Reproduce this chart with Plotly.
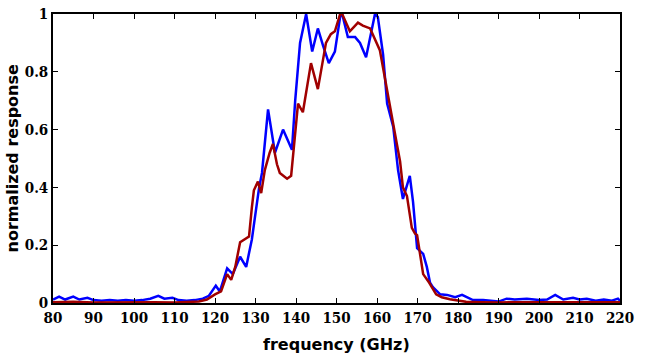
import plotly.graph_objects as go

# Blue series (frequency GHz, normalized response)
blue_f = [80, 81.5, 83, 85, 86.5, 88.5, 90, 92, 94, 96, 98, 100, 102, 104, 106, 107.5,
          109.5, 111, 113, 115, 117, 118.5, 120.2, 121.2, 123, 124.4, 126.2, 127.7,
          129.1, 130.1, 130.9, 131.6, 132.3, 133.1, 134.8, 136.8, 139, 139.8, 141,
          142.5, 144, 145.4, 146.7, 148.1, 149.6, 150.9, 151.4, 152.8, 154.6, 155.8,
          157.3, 158.3, 159.5, 160.2, 161.5, 162.5, 164, 165.2, 166.4, 168.1, 168.9,
          169.9, 171.4, 172.3, 173.1, 173.8, 175.6, 177.3, 179.3, 181, 183.7, 186.2,
          190, 192, 194, 197, 200, 202, 204, 206, 208.4, 210, 211.8, 214, 216, 218,
          219.5, 220]
blue_v = [0.012, 0.022, 0.012, 0.022, 0.012, 0.018, 0.01, 0.008, 0.01, 0.008, 0.01, 0.008,
          0.01, 0.015, 0.025, 0.015, 0.018, 0.01, 0.008, 0.01, 0.015, 0.025, 0.06, 0.04,
          0.12, 0.10, 0.16, 0.125, 0.22, 0.33, 0.40, 0.45, 0.56, 0.67, 0.52, 0.60, 0.53,
          0.70, 0.90, 1.0, 0.87, 0.95, 0.89, 0.83, 0.87, 0.99, 1.0, 0.92, 0.92, 0.90,
          0.85, 0.92, 1.0, 0.99, 0.86, 0.69, 0.61, 0.46, 0.36, 0.44, 0.35, 0.19, 0.17,
          0.125, 0.07, 0.055, 0.03, 0.028, 0.02, 0.028, 0.01, 0.01, 0.005, 0.015, 0.012,
          0.015, 0.01, 0.012, 0.028, 0.012, 0.018, 0.012, 0.015, 0.008, 0.012, 0.008,
          0.015, 0.008]

# Dark red series
red_f = [80, 85, 90, 95, 100, 105, 110, 114, 116, 118, 120, 121.5, 123, 124, 125,
         126.2, 127.4, 128.4, 129.1, 129.6, 130.6, 131.4, 132.3, 133.5, 134.3, 135.3,
         136, 137.8, 138.8, 139.3, 139.6, 140.5, 141.7, 143.7, 145.4, 147.4, 148.6,
         149.6, 150.9, 151.4, 153.3, 155.3, 156.5, 158.3, 160.7, 161.9, 163.2, 164.9,
         165.7, 166.4, 167.4, 168.1, 168.6, 169.4, 169.9, 171.4, 172.9, 174.6, 176,
         178, 180, 182, 186, 190, 200, 210, 220]
red_v = [0.003, 0.004, 0.002, 0.003, 0.002, 0.003, 0.002, 0.003, 0.005, 0.012, 0.03,
         0.04, 0.10, 0.08, 0.125, 0.21, 0.22, 0.23, 0.33, 0.39, 0.42, 0.38, 0.46, 0.52,
         0.55, 0.48, 0.45, 0.43, 0.44, 0.51, 0.56, 0.69, 0.66, 0.83, 0.74, 0.90, 0.93,
         0.94, 1.0, 1.0, 0.94, 0.97, 0.96, 0.95, 0.875, 0.78, 0.67, 0.55, 0.49, 0.40,
         0.37, 0.30, 0.26, 0.24, 0.235, 0.10, 0.07, 0.03, 0.02, 0.013, 0.008, 0.004,
         0.003, 0.002, 0.003, 0.002, 0.003]

x_ticks = list(range(80, 221, 10))
y_ticks = [0, 0.2, 0.4, 0.6, 0.8, 1]
y_tick_text = ["0", "0.2", "0.4", "0.6", "0.8", "1"]

fig = go.Figure()
fig.add_trace(go.Scatter(x=blue_f, y=blue_v, mode="lines",
                         line=dict(color="#0000ff", width=2.5), showlegend=False))
fig.add_trace(go.Scatter(x=red_f, y=red_v, mode="lines",
                         line=dict(color="#a00000", width=2.5), showlegend=False))

tickfont = dict(family="DejaVu Serif Condensed, DejaVu Serif", size=15, color="black")
axis_common = dict(ticks="inside", ticklen=5, tickwidth=1.2, tickcolor="black",
                   showline=True, linecolor="black", linewidth=1.5, mirror="ticks",
                   showgrid=False, zeroline=False, tickfont=tickfont, automargin=False)
fig.update_layout(
    width=646, height=354,
    margin=dict(l=53, r=26, t=14, b=51, autoexpand=False),
    paper_bgcolor="white", plot_bgcolor="white",
    xaxis=dict(range=[80, 220], tickvals=x_ticks,
               ticktext=["<b>%d</b>" % t for t in x_ticks], **axis_common),
    yaxis=dict(range=[0, 1], tickvals=y_ticks,
               ticktext=["<b>%s</b>" % t for t in y_tick_text], **axis_common),
    annotations=[
        dict(text="<b>frequency (GHz)</b>", xref="paper", yref="paper", x=0.5, y=0,
             yshift=-41, xanchor="center", yanchor="middle", showarrow=False,
             font=dict(family="DejaVu Sans", size=16, color="black")),
        dict(text="<b>normalized response</b>", xref="paper", yref="paper", x=0, y=0.5,
             xshift=-41, xanchor="center", yanchor="middle", textangle=-90, showarrow=False,
             font=dict(family="DejaVu Sans", size=16, color="black")),
    ],
)
fig.write_html("out.html", config={"displayModeBar": False},
               post_script="document.body.style.margin='0';")
